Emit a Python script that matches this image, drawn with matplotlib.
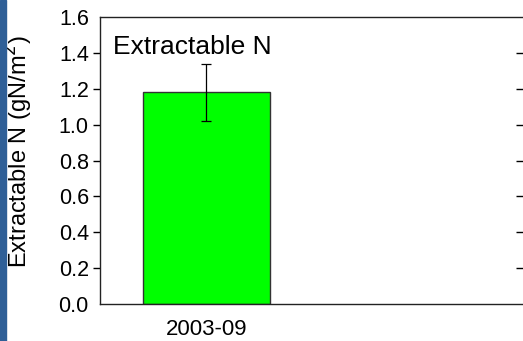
import matplotlib
matplotlib.use("Agg")
import matplotlib.pyplot as plt
from matplotlib.patches import Rectangle

plt.rcParams["font.family"] = ["Liberation Sans", "DejaVu Sans"]

# data
periods = ["2003-09", ""]
values = [1.18]
errors = [0.16]
yticks = [0.0, 0.2, 0.4, 0.6, 0.8, 1.0, 1.2, 1.4, 1.6]

fig = plt.figure(figsize=(5.23, 3.41), dpi=100)
ax = fig.add_axes([0.191, 0.1085, 0.815, 0.8415])

# blue strip on the left edge
fig.patches.append(Rectangle((0, 0), 0.011, 1, transform=fig.transFigure,
                             color="#2f5f97", zorder=0))

ax.bar([0], values, width=0.6, color="#00ff00", edgecolor="#333333",
       linewidth=1.0, zorder=2)
ax.errorbar([0], values, yerr=errors, fmt="none", ecolor="black",
            elinewidth=0.9, capsize=3.3, capthick=0.9, zorder=3)

ax.set_xlim(-0.5, 1.5)
ax.set_ylim(0, 1.6)
ax.set_xticks([0])
ax.set_xticklabels([periods[0]], fontsize=16)
ax.tick_params(axis="x", direction="in", length=2, color="#888888", pad=11)

ax.set_yticks(yticks)
ax.set_yticklabels([f"{v:.1f}" for v in yticks], fontsize=15.5)
ax.tick_params(axis="y", direction="out", length=5, width=1, right=True, pad=3)
for i, t in enumerate(ax.yaxis.get_major_ticks()):
    t.tick2line.set_markersize(7)
    t.tick2line.set_marker(0)  # inward on the right
    if i in (0, len(yticks) - 1):
        t.tick1line.set_visible(False)
        t.tick2line.set_visible(False)

for s in ax.spines.values():
    s.set_linewidth(1.0)
    s.set_color("#222222")
ax.spines["right"].set_visible(False)

ax.set_ylabel("Extractable N (gN/m$^2$)", fontsize=17)
ax.yaxis.set_label_coords(-0.152, 0.53)
ax.text(0.03, 0.895, "Extractable N", transform=ax.transAxes, fontsize=19,
        ha="left", va="center")

fig.savefig("out.png", dpi=100)
